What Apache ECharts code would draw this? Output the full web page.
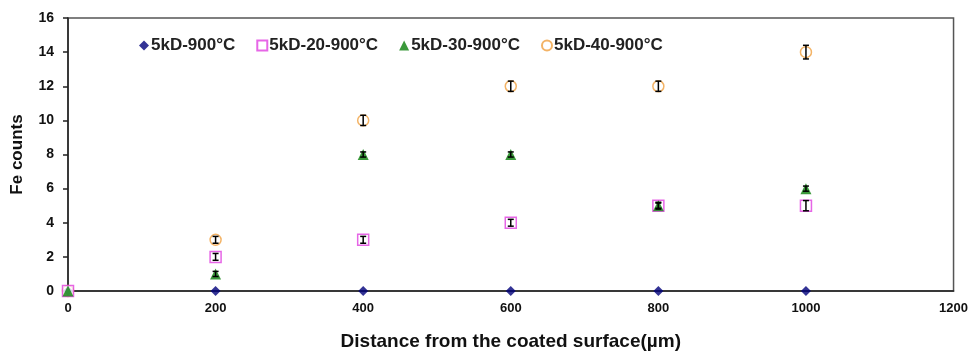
<!DOCTYPE html>
<html>
<head>
<meta charset="utf-8">
<script src="https://cdn.jsdelivr.net/npm/echarts@6/dist/echarts.min.js"></script>
<style>
  html, body { margin: 0; padding: 0; background: #fff; }
  #chart { width: 971px; height: 356px; }
</style>
</head>
<body>
<div id="chart"></div>
<script>
// distances (µm)
const distances = [0, 200, 400, 600, 800, 1000];
const seriesNames = ['5kD-900°C', '5kD-20-900°C', '5kD-30-900°C', '5kD-40-900°C'];

const fe900 = [0, 0, 0, 0, 0, 0];
const fe20 = [0, 2, 3, 4, 5, 5];
const fe30 = [0, 1, 8, 8, 5, 6];
const fe40 = [0, 3, 10, 12, 12, 14];

// half-length of error bars
const err20 = [0, 0.2, 0.2, 0.2, 0.2, 0.3];
const err30 = [0, 0.15, 0.15, 0.15, 0.15, 0.15];
const err40 = [0, 0.2, 0.3, 0.3, 0.3, 0.4];

const yTicks = [0, 2, 4, 6, 8, 10, 12, 14, 16];
const xTicks = [0, 200, 400, 600, 800, 1000, 1200];

const pts = (ys) => distances.map((x, i) => [x, ys[i]]);
const errPts = (ys, es) => distances.map((x, i) => [x, ys[i] - es[i], ys[i] + es[i]]).filter((d, i) => es[i] > 0);

function errorBar(params, api) {
  const x = api.value(0);
  const lo = api.coord([x, api.value(1)]);
  const hi = api.coord([x, api.value(2)]);
  const w = 3;
  const style = { stroke: '#000', lineWidth: 1.5 };
  return {
    type: 'group',
    children: [
      { type: 'line', shape: { x1: lo[0], y1: lo[1], x2: hi[0], y2: hi[1] }, style },
      { type: 'line', shape: { x1: lo[0] - w, y1: lo[1], x2: lo[0] + w, y2: lo[1] }, style },
      { type: 'line', shape: { x1: hi[0] - w, y1: hi[1], x2: hi[0] + w, y2: hi[1] }, style }
    ]
  };
}

const font = 'Liberation Sans, Arial, sans-serif';
const myChart = echarts.init(document.getElementById('chart'));

myChart.setOption({
  animation: false,
  grid: { left: 68, right: 14, top: 18, bottom: 63, show: true, borderColor: '#555', borderWidth: 1.5 },
  legend: {
    left: 134,
    top: 32,
    itemWidth: 10,
    itemHeight: 10,
    itemGap: 21,
    textStyle: { fontFamily: font, fontWeight: 'bold', fontSize: 17, color: '#222', padding: [0, 0, 0, -3] },
    data: seriesNames
  },
  xAxis: {
    type: 'value',
    min: 0,
    max: 1200,
    interval: 200,
    name: 'Distance from the coated surface(µm)',
    nameLocation: 'middle',
    nameGap: 41,
    nameTextStyle: { fontFamily: font, fontWeight: 'bold', fontSize: 19, color: '#111' },
    axisLine: { lineStyle: { color: '#222', width: 1.5 } },
    axisTick: { show: false },
    splitLine: { show: false },
    axisLabel: {
      margin: 11,
      fontFamily: font, fontWeight: 'bold', fontSize: 13, color: '#111',
      formatter: (v) => xTicks.includes(v) ? String(v) : ''
    }
  },
  yAxis: {
    type: 'value',
    min: 0,
    max: 16,
    interval: 2,
    name: 'Fe counts',
    nameLocation: 'middle',
    nameGap: 42,
    nameTextStyle: { fontFamily: font, fontWeight: 'bold', fontSize: 17, color: '#111' },
    axisLine: { show: true, lineStyle: { color: '#222', width: 1.5 } },
    axisTick: { show: true, inside: false, length: 5, lineStyle: { color: '#222', width: 1.5 } },
    splitLine: { show: false },
    axisLabel: {
      margin: 14,
      fontFamily: font, fontWeight: 'bold', fontSize: 14, color: '#111',
      formatter: (v) => yTicks.includes(v) ? String(v) : ''
    }
  },
  series: [
    {
      name: seriesNames[0], type: 'scatter', symbol: 'diamond', symbolSize: 10,
      itemStyle: { color: '#00007a' }, data: pts(fe900), z: 2
    },
    {
      name: seriesNames[1], type: 'scatter', symbol: 'rect', symbolSize: 11,
      itemStyle: { color: '#fff', borderColor: '#e040e0', borderWidth: 1.5 }, data: pts(fe20), z: 3
    },
    {
      name: seriesNames[2], type: 'scatter', symbol: 'triangle', symbolSize: 11,
      itemStyle: { color: '#0a7f0a' }, data: pts(fe30), z: 4
    },
    {
      name: seriesNames[3], type: 'scatter', symbol: 'circle', symbolSize: 11,
      itemStyle: { color: '#fff', borderColor: '#f0a040', borderWidth: 1.5 }, data: pts(fe40), z: 1
    },
    { type: 'custom', renderItem: errorBar, data: errPts(fe20, err20), z: 6, silent: true },
    { type: 'custom', renderItem: errorBar, data: errPts(fe30, err30), z: 6, silent: true },
    { type: 'custom', renderItem: errorBar, data: errPts(fe40, err40), z: 6, silent: true }
  ]
});
</script>
</body>
</html>
